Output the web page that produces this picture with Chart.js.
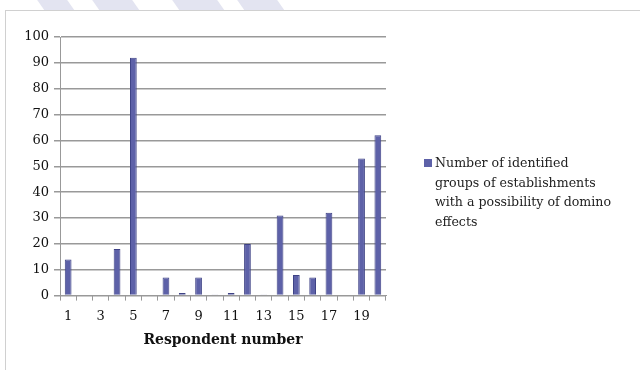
<!DOCTYPE html>
<html><head><meta charset="utf-8">
<script src="https://cdn.jsdelivr.net/npm/chart.js@4/dist/chart.umd.min.js"></script>
<style>
html,body{margin:0;padding:0;background:#fff;}
#wrap{position:relative;width:640px;height:370px;overflow:hidden;background:#fff;}
.stripe{position:absolute;top:-2px;height:12px;background:#e3e4f1;transform:skewX(35deg);}
#frame{position:absolute;left:5px;top:10px;width:700px;height:400px;border:1px solid #d0d0d0;background:#fff;}
canvas{position:absolute;left:0;top:0;}
</style></head>
<body><div id="wrap">
<div class="stripe" style="left:40px;width:30px"></div>
<div class="stripe" style="left:95px;width:40px"></div>
<div class="stripe" style="left:175px;width:45px"></div>
<div class="stripe" style="left:240px;width:40px"></div>
<div id="frame"></div>
<canvas id="c" width="640" height="370"></canvas>
</div>
<script>
const categories = ['1','2','3','4','5','6','7','8','9','10','11','12','13','14','15','16','17','18','19','20'];
const values = [14,0,0,18,92,0,7,1,7,0.2,1,20,0.2,31,8,7,32,0,53,62];
const seriesLabel = ['Number of identified','groups of establishments','with a possibility of domino','effects'];
const xTitle = 'Respondent number';
const yTicks = [0,10,20,30,40,50,60,70,80,90,100];

const font = "'DejaVu Serif', 'Liberation Serif', serif";
const barColor = '#5d61a8';

const sideLegend = {
  id: 'sideLegend',
  afterDraw(chart) {
    const ctx = chart.ctx;
    const x = chart.chartArea.right + 38;
    const y0 = 164;
    const lh = 19.5;
    ctx.save();
    ctx.fillStyle = barColor;
    ctx.fillRect(x, y0 - 5, 8, 8);
    ctx.fillStyle = '#222';
    ctx.font = "12.6px " + font;
    ctx.textBaseline = 'middle';
    seriesLabel.forEach((t, i) => ctx.fillText(t, x + 11, y0 + i * lh));
    ctx.restore();
  }
};

new Chart(document.getElementById('c'), {
  type: 'bar',
  data: { labels: categories, datasets: [{
    label: seriesLabel.join(' '),
    data: values,
    backgroundColor: barColor,
    borderColor: '#3e4285',
    borderWidth: 1,
    barPercentage: 0.46,
    categoryPercentage: 0.9
  }]},
  plugins: [sideLegend],
  options: {
    responsive: false, animation: false,
    layout: { padding: { top: 37, right: 254, left: 12, bottom: 21 } },
    plugins: { tooltip: { enabled: false }, legend: { display: false } },
    scales: {
      x: {
        grid: { display: true, drawOnChartArea: false, offset: true, tickLength: 5, color: '#999' },
        border: { color: '#999' },
        ticks: { color: '#111', font: { family: font, size: 13 }, autoSkip: false, maxRotation: 0, padding: 8,
          callback: function(v, i) { return i % 2 === 0 ? this.getLabelForValue(v) : ''; } },
        title: { display: true, text: xTitle, color: '#111', font: { family: font, size: 14, weight: 'bold' }, padding: { top: 0, bottom: 0 } }
      },
      y: {
        min: 0, max: 100,
        afterBuildTicks: (axis) => { axis.ticks = yTicks.map(v => ({ value: v })); },
        afterFit: (axis) => { axis.width = 48; },
        grid: { color: '#999', lineWidth: 1.5, tickLength: 6 },
        border: { color: '#999' },
        ticks: { color: '#111', font: { family: font, size: 13 }, padding: 5 }
      }
    }
  }
});
</script></body></html>
